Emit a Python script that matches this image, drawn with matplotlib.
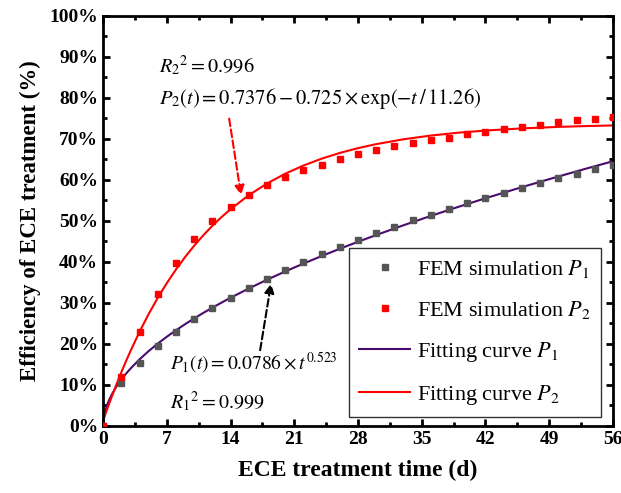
"""Efficiency of ECE treatment: FEM simulation points and fitted curves."""

import matplotlib
matplotlib.use("Agg")
import matplotlib.pyplot as plt
from matplotlib.ticker import MultipleLocator, PercentFormatter

plt.rcParams["font.family"] = ["Liberation Serif", "DejaVu Serif"]
plt.rcParams["mathtext.fontset"] = "stix"

# FEM simulation points (days, %)
days = [0, 2, 4, 6, 8, 10, 12, 14, 16, 18, 20, 22, 24, 26, 28,
        30, 32, 34, 36, 38, 40, 42, 44, 46, 48, 50, 52, 54, 56]
p1_sim = [0, 10.4, 15.4, 19.6, 23.0, 26.0, 28.7, 31.2, 33.7, 35.9, 37.9, 39.9, 41.8, 43.7, 45.4,
          47.0, 48.6, 50.1, 51.5, 52.9, 54.3, 55.5, 56.9, 58.1, 59.3, 60.4, 61.5, 62.6, 63.6]
p2_sim = [0, 12.0, 22.9, 32.2, 39.8, 45.5, 50.0, 53.5, 56.3, 58.7, 60.6, 62.3, 63.7, 65.0, 66.2,
          67.2, 68.2, 69.1, 69.8, 70.1, 71.2, 71.7, 72.4, 72.9, 73.4, 74.0, 74.5, 74.9, 75.2]

# fitted curves (days, %)
fit_days = [0, 0.1, 0.25, 0.5, 0.75, 1, 1.5, 2, 2.5, 3, 4, 5, 6, 7, 8, 9, 10, 11, 12, 13, 14,
            16, 18, 20, 22, 24, 26, 28, 30, 33, 36, 39, 42, 46, 50, 53, 56]
p1_fit = [0, 2.36, 3.81, 5.47, 6.76, 7.86, 9.72, 11.29, 12.69, 13.96, 16.23, 18.24, 20.07,
          21.75, 23.32, 24.80, 26.21, 27.55, 28.83, 30.06, 31.25, 33.51, 35.64, 37.66, 39.58,
          41.42, 43.20, 44.90, 46.55, 48.93, 51.21, 53.40, 55.51, 58.22, 60.81, 62.70, 64.53]
p2_fit = [1.26, 1.90, 2.85, 4.41, 5.93, 7.42, 10.30, 13.06, 15.69, 18.22, 22.94, 27.26, 31.21,
          34.82, 38.13, 41.16, 43.93, 46.46, 48.79, 50.91, 52.85, 56.25, 59.10, 61.49, 63.48,
          65.16, 66.56, 67.73, 68.71, 69.89, 70.80, 71.49, 72.02, 72.54, 72.91, 73.11, 73.26]

fig = plt.figure(figsize=(6.21, 4.93), dpi=100)
ax = fig.add_axes([0.166, 0.136, 0.821, 0.832])

ax.plot(days, p1_sim, "s", color="#555555", markersize=5, label="FEM simulation $P_1$", zorder=3)
ax.plot(days, p2_sim, "s", color="#ff0000", markersize=5, label="FEM simulation $P_2$", zorder=3)
ax.plot(fit_days, p1_fit, color="#4b0a6e", lw=1.5, label="Fitting curve $P_1$", zorder=2)
ax.plot(fit_days, p2_fit, color="#ff0000", lw=1.5, label="Fitting curve $P_2$", zorder=2)

ax.set_xlim(0, 56)
ax.set_ylim(0, 100)
ax.xaxis.set_major_locator(MultipleLocator(7))
ax.xaxis.set_minor_locator(MultipleLocator(3.5))
ax.yaxis.set_major_locator(MultipleLocator(10))
ax.yaxis.set_minor_locator(MultipleLocator(5))
ax.yaxis.set_major_formatter(PercentFormatter(decimals=0))
ax.tick_params(which="both", direction="in", top=True, right=True, width=2)
ax.tick_params(which="major", length=5, labelsize=14)
ax.tick_params(which="minor", length=3)
for lab in ax.get_xticklabels() + ax.get_yticklabels():
    lab.set_fontweight("bold")
for sp in ax.spines.values():
    sp.set_linewidth(2)

ax.set_xlabel("ECE treatment time (d)", fontsize=17, fontweight="bold", labelpad=9)
ax.set_ylabel("Efficiency of ECE treatment (%)", fontsize=16.5, fontweight="bold", labelpad=6)

leg = ax.legend(loc="lower right", bbox_to_anchor=(0.976, 0.022), borderaxespad=0, fontsize=16,
                fancybox=False, edgecolor="#333333", framealpha=1, handlelength=2.3,
                labelspacing=0.85, borderpad=0.45, handletextpad=0.3)
leg.get_frame().set_linewidth(1.0)

ax.text(6.1, 86.2, "$R_2{}^2 = 0.996$", fontsize=14.6)
ax.text(6.1, 78.6, r"$P_2\left(t\right) = 0.7376 - 0.725\times\mathrm{exp}\left(-t\,/\,11.26\right)$",
        fontsize=14.8)
ax.annotate("", xy=(15.2, 55.6), xytext=(13.8, 75.6),
            arrowprops=dict(arrowstyle="-|>", color="#ff0000", lw=1.5, ls="--", mutation_scale=14))

ax.text(7.4, 13.6, r"$P_1\left(t\right) = 0.0786\times t^{0.523}$", fontsize=14)
ax.text(7.4, 4.4, "$R_1{}^2 = 0.999$", fontsize=14.4)
ax.annotate("", xy=(18.5, 35.4), xytext=(17.2, 17.8),
            arrowprops=dict(arrowstyle="-|>", color="black", lw=1.5, ls="--", mutation_scale=14))

fig.savefig("out.png", dpi=100)
plt.close(fig)
